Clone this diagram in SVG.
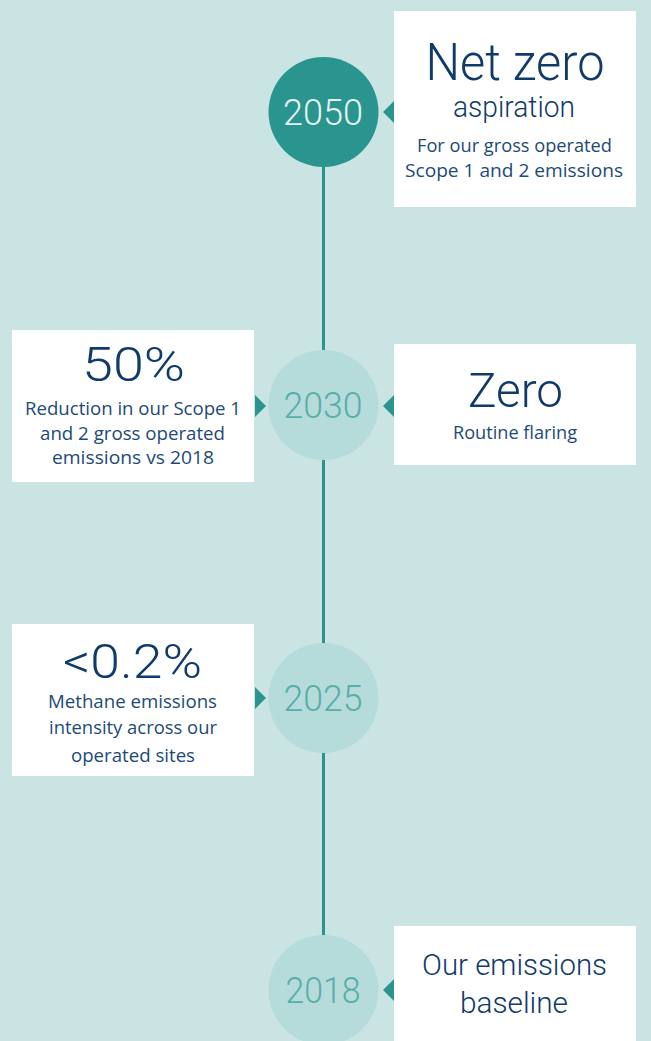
<svg xmlns="http://www.w3.org/2000/svg" width="651" height="1041" viewBox="0 0 651 1041">
  <defs>
    <style>
      .bg { fill: #c9e4e3; }
      .spine { stroke: #2a958f; stroke-width: 3; fill: none; }
      .box { fill: #ffffff; }
      .pointer { fill: #2a958f; }
      .dot-main { fill: #2a958f; }
      .dot { fill: #b5dbda; }
      .year { font-family: Roboto, "Liberation Sans", sans-serif; font-weight: 300; font-size: 36px; text-anchor: middle; }
      .year-main { fill: #e6f3f2; }
      .year-soft { fill: #5aaeaa; }
      .head { font-family: Roboto, "Liberation Sans", sans-serif; font-weight: 300; fill: #0f3a6a; text-anchor: middle; }
      .body { font-family: "Open Sans", "Noto Sans", "Liberation Sans", sans-serif; font-size: 17.5px; fill: #1d4a78; text-anchor: middle; }
    </style>
  </defs>

  <rect class="bg" x="0" y="0" width="651" height="1041"/>

  <!-- vertical timeline spine -->
  <g id="connectors">
    <line class="spine" x1="323.5" y1="112" x2="323.5" y2="990"/>
    <polygon class="pointer" points="394,101 383,112 394,123"/>
    <polygon class="pointer" points="255,395 266,406 255,417"/>
    <polygon class="pointer" points="394,395 383,406 394,417"/>
    <polygon class="pointer" points="255,687 266,698 255,709"/>
    <polygon class="pointer" points="394,979 383,990 394,1001"/>
  </g>

  <!-- year markers -->
  <g id="year-2050">
    <circle class="dot-main" cx="323.5" cy="112" r="55"/>
    <text class="year year-main" x="323" y="124.5" textLength="80" lengthAdjust="spacingAndGlyphs">2050</text>
  </g>
  <g id="year-2030">
    <circle class="dot" cx="323.5" cy="405" r="55"/>
    <text class="year year-soft" x="323" y="418" textLength="79" lengthAdjust="spacingAndGlyphs">2030</text>
  </g>
  <g id="year-2025">
    <circle class="dot" cx="323.5" cy="698" r="55"/>
    <text class="year year-soft" x="323" y="711" textLength="79" lengthAdjust="spacingAndGlyphs">2025</text>
  </g>
  <g id="year-2018">
    <circle class="dot" cx="323.5" cy="990" r="55"/>
    <text class="year year-soft" x="323" y="1003" textLength="75" lengthAdjust="spacingAndGlyphs">2018</text>
  </g>

  <!-- target cards -->
  <g id="card-net-zero">
    <rect class="box" x="394" y="11" width="242" height="196"/>
    <text class="head" x="515" y="80" font-size="52" textLength="179" lengthAdjust="spacingAndGlyphs">Net zero</text>
    <text class="head" x="514" y="117" font-size="29" textLength="122" lengthAdjust="spacingAndGlyphs">aspiration</text>
    <text class="body" x="514.5" y="152" textLength="195" lengthAdjust="spacingAndGlyphs">For our gross operated</text>
    <text class="body" x="514" y="177" textLength="218" lengthAdjust="spacingAndGlyphs">Scope 1 and 2 emissions</text>
  </g>

  <g id="card-fifty-percent">
    <rect class="box" x="12" y="330" width="242" height="152"/>
    <text class="head" x="133.5" y="381" font-size="48" textLength="103" lengthAdjust="spacingAndGlyphs">50%</text>
    <text class="body" x="133" y="415" textLength="216" lengthAdjust="spacingAndGlyphs">Reduction in our Scope 1</text>
    <text class="body" x="132.5" y="440" textLength="185" lengthAdjust="spacingAndGlyphs">and 2 gross operated</text>
    <text class="body" x="133" y="464" textLength="162" lengthAdjust="spacingAndGlyphs">emissions vs 2018</text>
  </g>

  <g id="card-zero-flaring">
    <rect class="box" x="394" y="344" width="242" height="121"/>
    <text class="head" x="515.5" y="407" font-size="49" textLength="95" lengthAdjust="spacingAndGlyphs">Zero</text>
    <text class="body" x="515" y="439" textLength="124" lengthAdjust="spacingAndGlyphs">Routine flaring</text>
  </g>

  <g id="card-methane">
    <rect class="box" x="12" y="624" width="242" height="152"/>
    <text class="head" x="132.5" y="678" font-size="48" textLength="139" lengthAdjust="spacingAndGlyphs">&lt;0.2%</text>
    <text class="body" x="132.5" y="708" textLength="169" lengthAdjust="spacingAndGlyphs">Methane emissions</text>
    <text class="body" x="133" y="734" textLength="168" lengthAdjust="spacingAndGlyphs">intensity across our</text>
    <text class="body" x="133" y="762" textLength="124" lengthAdjust="spacingAndGlyphs">operated sites</text>
  </g>

  <g id="card-baseline">
    <rect class="box" x="394" y="926" width="242" height="120"/>
    <text class="head" x="514.5" y="975" font-size="30" textLength="185" lengthAdjust="spacingAndGlyphs">Our emissions</text>
    <text class="head" x="514" y="1013" font-size="30" textLength="108" lengthAdjust="spacingAndGlyphs">baseline</text>
  </g>
</svg>
